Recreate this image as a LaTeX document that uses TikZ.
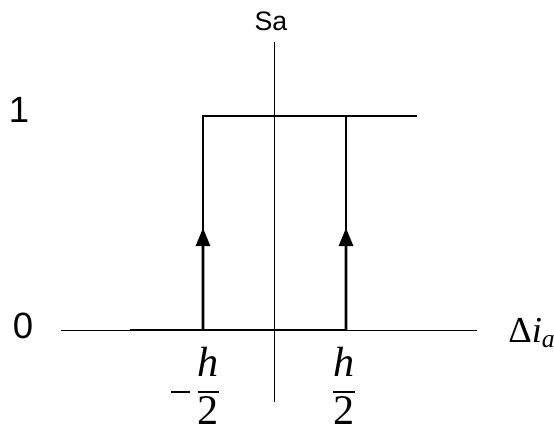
\documentclass[tikz,border=0pt]{standalone}
\usepackage{amsmath}
\usepackage{fontspec}
\setmainfont{Liberation Serif}
\setsansfont{Liberation Sans}
\usetikzlibrary{arrows.meta, calc}

\newcommand{\negbar}{\rule[\dimexpr\fontdimen22\textfont2-0.6pt\relax]{14pt}{1.2pt}}

\begin{document}
\begin{tikzpicture}[axisline/.style={line width=0.7pt},
    switchline/.style={line width=2.1pt},
    uparrow/.style={switchline, -{Triangle[length=13pt, width=10pt]}},
    every node/.style={inner sep=0pt}]
  \useasboundingbox (0,0) rectangle (13.85,10.875);
  % axes
  \coordinate (xl) at (1.525,2.625);
  \coordinate (xr) at (11.925,2.625);
  \coordinate (yb) at (6.85,0.825);
  \coordinate (yt) at (6.85,9.825);
  \draw[axisline] (xl) -- (xr);
  \draw[axisline] (yb) -- (yt);
  % hysteresis loop
  \coordinate (b0) at (3.25,2.625);
  \coordinate (lb) at (5.075,2.625);
  \coordinate (lt) at (5.075,7.975);
  \coordinate (rb) at (8.65,2.625);
  \coordinate (rt) at (8.65,7.975);
  \coordinate (t1) at (10.425,7.975);
  \draw[switchline] (b0) -- (rb);
  \draw[switchline] (lb) -- (lt) -- (t1);
  \draw[switchline] (rb) -- (rt);
  \foreach \p in {l,r} {
    \draw[uparrow] (\p b) -- ($(\p b)!0.477!(\p t)$);
  }
  % labels
  \node (n1) at (0.475,8.125) {\sffamily\fontsize{26}{26}\selectfont 1};
  \node (n0) at (0.575,2.725) {\sffamily\fontsize{26}{26}\selectfont 0};
  \node (sa) at (6.775,10.35) {\sffamily\fontsize{19}{19}\selectfont Sa};
  \node (mh) at (4.89,1.22) {\fontsize{30}{30}\selectfont $\negbar\,\dfrac{\textit{h}}{\text{2}}$};
  \node (ph) at (8.6,1.22) {\fontsize{30}{30}\selectfont $\dfrac{\textit{h}}{\text{2}}$};
  \node[anchor=west] (di) at (12.7,2.55) {\fontsize{26}{26}\selectfont Δ\textit{i}\textsubscript{\textit{a}}};
\end{tikzpicture}
\end{document}
